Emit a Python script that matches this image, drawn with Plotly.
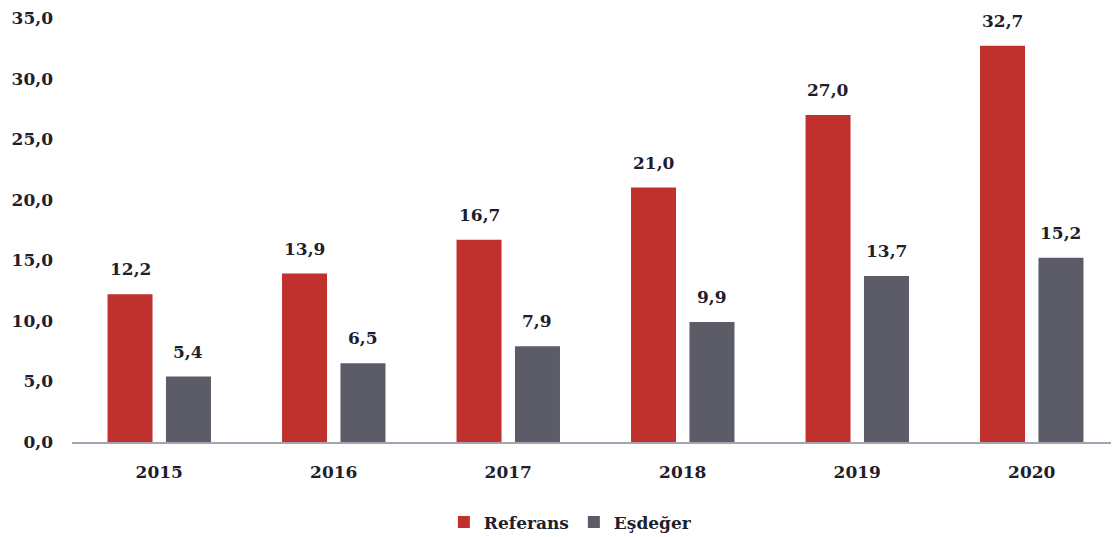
import plotly.graph_objects as go

# data
years = ["2015", "2016", "2017", "2018", "2019", "2020"]
referans = [12.2, 13.9, 16.7, 21.0, 27.0, 32.7]
esdeger = [5.4, 6.5, 7.9, 9.9, 13.7, 15.2]
y_ticks = [0, 5, 10, 15, 20, 25, 30, 35]

RED = "#c0312e"
GRAY = "#5b5c68"
TXT = "#1e1e2c"
FONT = "DejaVu Serif"
FS = 17

fig = go.Figure()
fig.add_trace(go.Bar(name="<b>Referans</b>", x=years, y=referans,
                     marker=dict(color=RED, line=dict(width=0))))
fig.add_trace(go.Bar(name="<b>Eşdeğer</b>", x=years, y=esdeger,
                     marker=dict(color=GRAY, line=dict(width=0))))

# value labels above bars (x given as category index)
for series, shift in ((referans, -29), (esdeger, 29)):
    for i, v in enumerate(series):
        fig.add_annotation(x=i, y=v, xshift=shift, yshift=13,
                           text="<b>%s</b>" % f"{v:.1f}".replace(".", ","),
                           showarrow=False, yanchor="bottom",
                           font=dict(family=FONT, size=FS, color=TXT))

# page body has an 8px margin, so the figure is sized/placed to compensate
fig.update_layout(
    width=1111, height=529,
    margin=dict(l=64, r=0, t=10, b=95, autoexpand=False),
    paper_bgcolor="white", plot_bgcolor="white",
    barmode="group", bargap=0.33, bargroupgap=0.23,
    separators=",.",
    font=dict(family=FONT, size=FS, color=TXT),
    showlegend=True,
    legend=dict(orientation="h", x=0.476, xanchor="center",
                y=-0.19, yanchor="middle",
                font=dict(family=FONT, size=FS, color=TXT),
                itemwidth=30, tracegroupgap=0),
)
fig.update_xaxes(type="category", range=[-0.5, len(years) - 0.5], automargin=False,
                 showline=True, linecolor="#a3a3b3", linewidth=2,
                 showgrid=False, ticks="", ticklabelstandoff=14,
                 tickfont=dict(family=FONT, size=FS, color=TXT),
                 tickvals=years, ticktext=["<b>%s</b>" % y for y in years])
fig.update_yaxes(range=[0, 35], automargin=False, ticklabeloverflow="allow",
                 showgrid=False, zeroline=False, showline=False,
                 tickvals=y_ticks,
                 ticktext=["<b>%s</b>" % f"{t:.1f}".replace(".", ",") for t in y_ticks],
                 ticklabelstandoff=18,
                 tickfont=dict(family=FONT, size=FS, color=TXT))

fig.write_html("out.html")
